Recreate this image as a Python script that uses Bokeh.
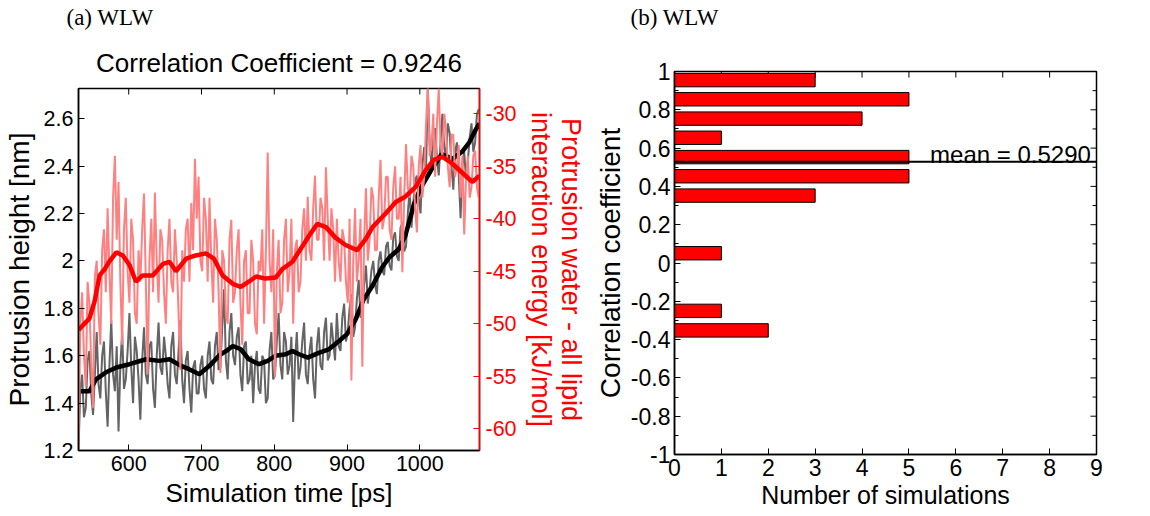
from bokeh.plotting import figure
from bokeh.models import (Range1d, LinearAxis, FixedTicker, CustomJSTickFormatter,
                          Span, Label, Title, ColumnDataSource)
from bokeh.layouts import row, column
from bokeh.embed import file_html
from bokeh.resources import INLINE

# ---------------- data: panel (a) ----------------
t_raw = [531, 533.5, 536, 538.5, 541, 543.5, 546, 548.5, 551, 553.5,
         556, 558.5, 561, 563.5, 566, 568.5, 571, 573.5, 576, 578.5,
         581, 583.5, 586, 588.5, 591, 593.5, 596, 598.5, 601, 603.5,
         606, 608.5, 611, 613.5, 616, 618.5, 621, 623.5, 626, 628.5,
         631, 633.5, 636, 638.5, 641, 643.5, 646, 648.5, 651, 653.5,
         656, 658.5, 661, 663.5, 666, 668.5, 671, 673.5, 676, 678.5,
         681, 683.5, 686, 688.5, 691, 693.5, 696, 698.5, 701, 703.5,
         706, 708.5, 711, 713.5, 716, 718.5, 721, 723.5, 726, 728.5,
         731, 733.5, 736, 738.5, 741, 743.5, 746, 748.5, 751, 753.5,
         756, 758.5, 761, 763.5, 766, 768.5, 771, 773.5, 776, 778.5,
         781, 783.5, 786, 788.5, 791, 793.5, 796, 798.5, 801, 803.5,
         806, 808.5, 811, 813.5, 816, 818.5, 821, 823.5, 826, 828.5,
         831, 833.5, 836, 838.5, 841, 843.5, 846, 848.5, 851, 853.5,
         856, 858.5, 861, 863.5, 866, 868.5, 871, 873.5, 876, 878.5,
         881, 883.5, 886, 888.5, 891, 893.5, 896, 898.5, 901, 903.5,
         906, 908.5, 911, 913.5, 916, 918.5, 921, 923.5, 926, 928.5,
         931, 933.5, 936, 938.5, 941, 943.5, 946, 948.5, 951, 953.5,
         956, 958.5, 961, 963.5, 966, 968.5, 971, 973.5, 976, 978.5,
         981, 983.5, 986, 988.5, 991, 993.5, 996, 998.5, 1001, 1003.5,
         1006, 1008.5, 1011, 1013.5, 1016, 1018.5, 1021, 1023.5, 1026, 1028.5,
         1031, 1033.5, 1036, 1038.5, 1041, 1043.5, 1046, 1048.5, 1051, 1053.5,
         1056, 1058.5, 1061, 1063.5, 1066, 1068.5, 1071, 1073.5, 1076, 1078.5,
         1081]
height_raw = [1.20, 1.46, 1.52, 1.34, 1.38, 1.58, 1.62, 1.44, 1.35, 1.52,
              1.70, 1.48, 1.42, 1.60, 1.66, 1.45, 1.30, 1.56, 1.75, 1.52,
              1.45, 1.64, 1.28, 1.56, 1.70, 1.46, 1.50, 1.62, 1.78, 1.55,
              1.40, 1.68, 1.62, 1.50, 1.33, 1.58, 1.72, 1.52, 1.48, 1.64,
              1.66, 1.46, 1.38, 1.60, 1.74, 1.55, 1.52, 1.68, 1.60, 1.48,
              1.42, 1.64, 1.70, 1.52, 1.48, 1.62, 1.75, 1.50, 1.40, 1.58,
              1.62, 1.46, 1.36, 1.55, 1.58, 1.44, 1.44, 1.56, 1.60, 1.46,
              1.42, 1.60, 1.66, 1.50, 1.48, 1.64, 1.70, 1.54, 1.55, 1.72,
              1.88, 1.58, 1.50, 1.70, 1.78, 1.60, 1.56, 1.68, 1.72, 1.52,
              1.45, 1.64, 1.66, 1.48, 1.50, 1.60, 1.40, 1.56, 1.62, 1.46,
              1.44, 1.60, 1.58, 1.40, 1.42, 1.62, 1.70, 1.50, 1.52, 1.66,
              1.78, 1.56, 1.50, 1.70, 1.66, 1.52, 1.56, 1.68, 1.32, 1.58,
              1.70, 1.50, 1.55, 1.66, 1.74, 1.52, 1.48, 1.62, 1.68, 1.50,
              1.42, 1.64, 1.72, 1.56, 1.54, 1.70, 1.76, 1.58, 1.60, 1.74,
              1.66, 1.58, 1.78, 1.64, 1.62, 1.76, 1.82, 1.66, 1.70, 1.80,
              1.86, 1.68, 1.72, 1.84, 1.92, 1.76, 1.80, 1.90, 1.98, 1.82,
              1.88, 1.96, 2.00, 1.90, 1.86, 2.00, 2.04, 1.96, 1.94, 2.06,
              2.08, 1.98, 1.96, 2.10, 2.12, 2.02, 2.00, 2.14, 2.16, 2.04,
              2.06, 2.20, 2.30, 2.14, 2.24, 2.34, 2.36, 2.26, 2.20, 2.40,
              2.48, 2.38, 2.73, 2.50, 2.40, 2.52, 2.56, 2.44, 2.36, 2.50,
              2.62, 2.48, 2.44, 2.58, 2.54, 2.40, 2.30, 2.46, 2.50, 2.36,
              2.18, 2.40, 2.46, 2.34, 2.42, 2.52, 2.58, 2.46, 2.50, 2.62,
              2.64]
energy_raw = [-62.0, -50.0, -47.0, -53.0, -56.0, -46.0, -48.0, -54.0, -58.0, -45.5,
              -44.0, -49.0, -52.0, -43.0, -41.0, -47.0, -39.0, -45.0, -50.0, -38.0,
              -34.0, -42.0, -36.5, -46.0, -52.0, -41.0, -38.0, -45.0, -48.0, -40.0,
              -42.0, -49.0, -50.0, -43.0, -46.0, -41.0, -37.6, -46.0, -54.8, -44.0,
              -40.0, -47.0, -37.5, -44.0, -48.0, -41.0, -42.0, -47.0, -50.0, -43.0,
              -40.0, -46.0, -47.0, -41.0, -44.0, -49.0, -54.4, -43.0, -46.0, -41.0,
              -40.0, -46.0, -38.5, -43.0, -34.3, -40.0, -36.0, -44.0, -45.0, -38.0,
              -40.0, -46.0, -38.0, -44.0, -48.0, -40.0, -42.0, -47.0, -54.7, -43.0,
              -44.0, -49.0, -50.0, -42.0, -40.1, -48.0, -47.0, -43.0, -41.0, -48.0,
              -52.0, -44.0, -43.0, -49.0, -49.0, -42.0, -44.0, -50.0, -51.0, -44.0,
              -45.0, -41.0, -50.0, -43.0, -33.7, -44.0, -47.0, -41.0, -55.1, -45.0,
              -42.0, -49.0, -48.0, -42.0, -40.0, -47.0, -45.0, -40.0, -50.0, -43.0,
              -42.0, -47.0, -46.0, -41.0, -39.0, -44.0, -37.9, -43.0, -44.0, -39.0,
              -35.9, -42.0, -42.0, -38.0, -39.0, -44.0, -35.1, -40.0, -44.0, -39.0,
              -41.0, -46.0, -40.0, -44.0, -46.0, -41.0, -42.0, -46.0, -48.0, -40.0,
              -55.4, -44.0, -39.0, -46.0, -44.0, -40.0, -54.1, -42.0, -37.1, -44.0,
              -42.0, -37.0, -38.0, -43.0, -43.0, -38.0, -34.4, -41.0, -40.0, -36.0,
              -36.0, -41.0, -42.0, -37.0, -35.0, -40.0, -40.0, -36.0, -45.1, -38.0,
              -32.9, -37.0, -38.0, -34.0, -35.0, -39.0, -41.3, -35.0, -33.0, -38.0,
              -36.0, -31.0, -27.6, -34.0, -33.0, -30.0, -36.0, -31.0, -27.6, -33.0,
              -34.0, -30.0, -31.5, -35.0, -37.0, -32.0, -32.0, -36.0, -35.0, -33.0,
              -38.0, -34.0, -41.5, -36.0, -34.0, -38.0, -37.0, -34.0, -33.5, -37.0,
              -38.0]

t_height_smooth = [534, 546, 555, 569, 583, 601, 624, 642, 656, 672, 683, 697, 711,
                   724, 734, 743, 754, 765, 779, 791, 802, 816, 825, 834, 846, 862,
                   875, 889, 900, 912, 923, 935, 948, 958, 971, 980, 992, 1000, 1015,
                   1030, 1045, 1058, 1068, 1078, 1082]
height_smooth = [1.45, 1.45, 1.50, 1.53, 1.55, 1.564, 1.585, 1.578, 1.585, 1.557, 1.543,
                 1.522, 1.557, 1.60, 1.62, 1.641, 1.627, 1.585, 1.564, 1.578, 1.60,
                 1.606, 1.62, 1.606, 1.592, 1.613, 1.627, 1.662, 1.691, 1.754, 1.838,
                 1.895, 1.972, 2.014, 2.049, 2.105, 2.239, 2.30, 2.38, 2.45, 2.43,
                 2.46, 2.50, 2.56, 2.58]

t_energy_smooth = [531, 546, 553, 560, 567, 573, 583, 592, 601, 610, 619, 633, 647, 656,
                   665, 679, 692, 706, 717, 729, 743, 754, 765, 775, 788, 802, 811, 825,
                   836, 848, 859, 871, 884, 898, 914, 926, 935, 946, 953, 967, 980, 994,
                   1008, 1019, 1031, 1042, 1058, 1072, 1082]
energy_smooth = [-50.6, -49.5, -47.9, -45.4, -44.8, -44.1, -43.2, -43.5, -44.4, -46.0,
                 -45.4, -45.4, -44.3, -44.1, -45.0, -43.8, -43.5, -43.3, -43.8, -45.4,
                 -46.2, -46.5, -46.0, -45.5, -45.7, -45.6, -44.8, -44.1, -42.9, -41.6,
                 -40.5, -40.8, -41.8, -42.5, -43.0, -41.9, -40.8, -40.0, -39.5, -38.4,
                 -37.9, -37.0, -35.4, -34.4, -34.1, -34.6, -35.6, -36.5, -35.9]

height_ticks = [1.2, 1.4, 1.6, 1.8, 2.0, 2.2, 2.4, 2.6]
energy_ticks = [-60, -55, -50, -45, -40, -35, -30]
time_ticks = [600, 700, 800, 900, 1000]

# ---------------- data: panel (b) ----------------
bin_centers = [0.955, 0.855, 0.754, 0.654, 0.553, 0.453, 0.352, 0.051, -0.250, -0.352]
bin_counts = [3, 5, 4, 1, 5, 5, 3, 1, 1, 2]
mean_corr = 0.5290
corr_ticks = [-1, -0.8, -0.6, -0.4, -0.2, 0, 0.2, 0.4, 0.6, 0.8, 1]
corr_minor = [-0.9, -0.7, -0.5, -0.3, -0.1, 0.1, 0.3, 0.5, 0.7, 0.9]
count_ticks = [0, 1, 2, 3, 4, 5, 6, 7, 8, 9]

SANS = "Liberation Sans"
SERIF = "Liberation Serif"
fmt = CustomJSTickFormatter(code="return Number(tick.toFixed(2)).toString();")

T_LEN = 6  # tick length in px
STRIP_H = 34
W1, W2 = 590, 560


def style_axis(ax, color="black", label_fs="26px", tick_fs="21.5px",
               lab_standoff=5, tick_standoff=5):
    ax.axis_line_color = color
    ax.axis_line_width = 1.5
    ax.major_tick_line_color = color
    ax.minor_tick_line_color = color
    ax.major_tick_in = T_LEN
    ax.major_tick_out = 0
    ax.minor_tick_in = 4
    ax.minor_tick_out = 0
    ax.major_label_text_color = color
    ax.major_label_text_font = SANS
    ax.major_label_text_font_size = tick_fs
    ax.major_label_standoff = tick_standoff
    ax.axis_label_text_font = SANS
    ax.axis_label_text_font_style = "normal"
    ax.axis_label_text_color = color
    ax.axis_label_text_font_size = label_fs
    ax.axis_label_text_line_height = 1.0
    ax.axis_label_standoff = lab_standoff


# ---------------- top strip with panel tags ----------------
strip = figure(width=W1 + W2, height=STRIP_H, output_backend="svg",
               toolbar_location=None, x_range=Range1d(0, W1 + W2),
               y_range=Range1d(STRIP_H, 0), min_border=0,
               x_axis_location=None, y_axis_location=None)
strip.frame_align = False
strip.grid.visible = False
strip.outline_line_color = None
strip.add_layout(Label(x=66, y=STRIP_H / 2, text="(a) WLW", text_align="left",
                       text_baseline="middle", text_font=SERIF,
                       text_font_size="23px", text_color="black"))
strip.add_layout(Label(x=630, y=STRIP_H / 2, text="(b) WLW", text_align="left",
                       text_baseline="middle", text_font=SERIF,
                       text_font_size="23px", text_color="black"))

# ---------------- panel (a) ----------------
X1 = (531, 1082)
Y1 = (1.2, 2.727)
F1W, F1H = 402, 362
p1 = figure(width=W1, height=516 - STRIP_H, output_backend="svg", toolbar_location=None,
            x_range=Range1d(*X1), y_range=Range1d(*Y1),
            min_border_left=77, min_border_right=W1 - 77 - F1W,
            min_border_top=88 - STRIP_H, min_border_bottom=66,
            x_axis_location=None, y_axis_location=None)
p1.frame_align = False
p1.extra_y_ranges = {"energy": Range1d(-62.07, -27.6)}
p1.grid.visible = False
p1.outline_line_color = "black"
p1.outline_line_width = 1.5

ax_b = LinearAxis(ticker=FixedTicker(ticks=time_ticks), formatter=fmt,
                  axis_label="Simulation time [ps]")
style_axis(ax_b, label_fs="26px", lab_standoff=4)
p1.add_layout(ax_b, "below")
ax_l = LinearAxis(ticker=FixedTicker(ticks=height_ticks), formatter=fmt,
                  axis_label="Protrusion height [nm]")
style_axis(ax_l, label_fs="28px", lab_standoff=6)
p1.add_layout(ax_l, "left")
ax_r = LinearAxis(y_range_name="energy", ticker=FixedTicker(ticks=energy_ticks),
                  formatter=fmt,
                  axis_label="Protrusion water - all lipid\ninteraction energy [kJ/mol]")
style_axis(ax_r, color="#ff0000", label_fs="27px", lab_standoff=6, tick_standoff=6)
p1.add_layout(ax_r, "right")

p1.add_layout(Title(text="Correlation Coefficient = 0.9246", align="center",
                    text_font=SANS, text_font_size="26px", text_font_style="normal",
                    text_color="black", standoff=22), "above")

# mirrored inward ticks on the top edge
tk1 = T_LEN * (Y1[1] - Y1[0]) / F1H
p1.segment(x0=time_ticks, y0=[Y1[1]] * len(time_ticks), x1=time_ticks,
           y1=[Y1[1] - tk1] * len(time_ticks), line_color="black", line_width=1)

p1.line(t_raw, height_raw, line_color="#646464", line_width=2)
p1.line(t_height_smooth, height_smooth, line_color="black", line_width=4.5)
p1.line(t_raw, energy_raw, line_color="#ff8080", line_width=2, y_range_name="energy")
p1.line(t_energy_smooth, energy_smooth, line_color="#ff0000", line_width=4.5,
        y_range_name="energy")

# ---------------- panel (b) ----------------
X2 = (0, 9)
Y2 = (-1, 1)
F2W, F2H = 422, 383
p2 = figure(width=W2, height=516 - STRIP_H, output_backend="svg", toolbar_location=None,
            x_range=Range1d(*X2), y_range=Range1d(*Y2),
            min_border_left=674 - W1, min_border_right=W2 - (674 - W1) - F2W,
            min_border_top=71 - STRIP_H, min_border_bottom=62,
            x_axis_location=None, y_axis_location=None)
p2.frame_align = False
p2.grid.visible = False
p2.outline_line_color = "black"
p2.outline_line_width = 1.5

bx_b = LinearAxis(ticker=FixedTicker(ticks=count_ticks), formatter=fmt,
                  axis_label="Number of simulations")
style_axis(bx_b, label_fs="25px", tick_fs="23px", lab_standoff=2, tick_standoff=4)
p2.add_layout(bx_b, "below")
bx_l = LinearAxis(ticker=FixedTicker(ticks=corr_ticks, minor_ticks=corr_minor),
                  formatter=fmt, axis_label="Correlation coefficient")
style_axis(bx_l, label_fs="28px", tick_fs="23px", lab_standoff=2, tick_standoff=4)
p2.add_layout(bx_l, "left")

# mirrored inward ticks on the top and right edges
tk2y = T_LEN * (Y2[1] - Y2[0]) / F2H
tk2x = T_LEN * (X2[1] - X2[0]) / F2W
tk2xm = 4 * (X2[1] - X2[0]) / F2W
top_t = count_ticks[1:-1]
p2.segment(x0=top_t, y0=[Y2[1]] * len(top_t), x1=top_t, y1=[Y2[1] - tk2y] * len(top_t),
           line_color="black", line_width=1)
p2.segment(x0=[X2[1]] * len(corr_ticks), y0=corr_ticks,
           x1=[X2[1] - tk2x] * len(corr_ticks), y1=corr_ticks,
           line_color="black", line_width=1)
p2.segment(x0=[X2[1]] * len(corr_minor), y0=corr_minor,
           x1=[X2[1] - tk2xm] * len(corr_minor), y1=corr_minor,
           line_color="black", line_width=1)

src = ColumnDataSource(dict(y=bin_centers, right=bin_counts))
p2.hbar(y="y", left=0, right="right", height=0.07, source=src,
        fill_color="#ff0000", line_color="black", line_width=1)
p2.add_layout(Span(location=mean_corr, dimension="width", line_color="black",
                   line_width=2))
p2.add_layout(Label(x=8.88, y=mean_corr + 0.035, text="mean = %.4f" % mean_corr,
                    text_align="right", text_baseline="alphabetic",
                    text_font=SANS, text_font_size="24px", text_color="black"))

layout = column(strip, row(p1, p2))
open("out.html", "w").write(file_html(layout, INLINE))
